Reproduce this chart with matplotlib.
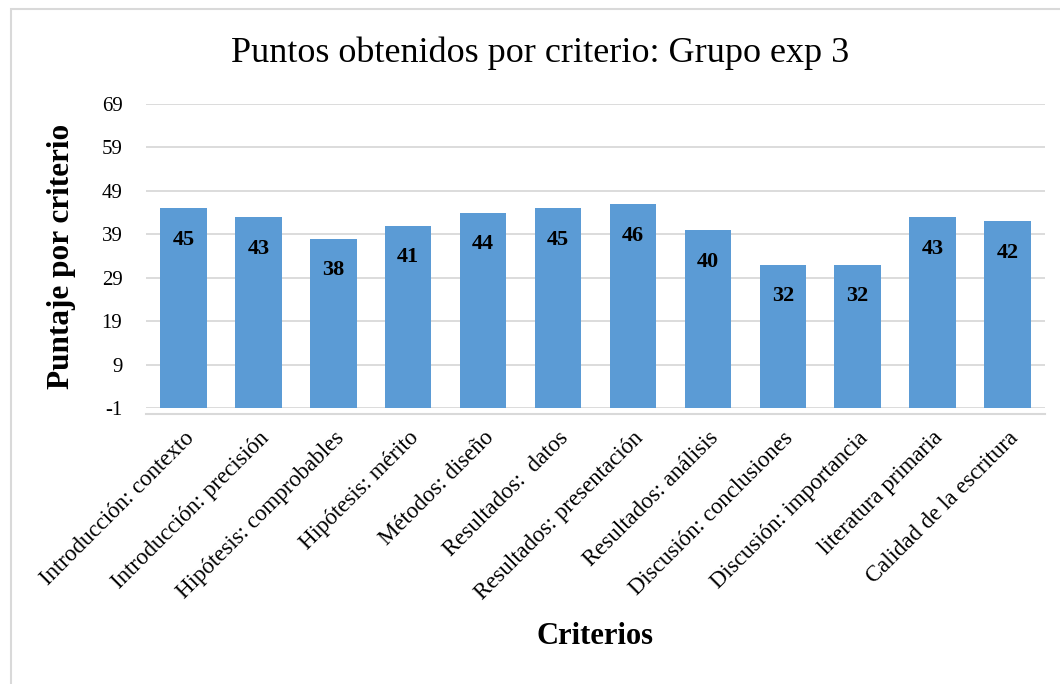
import matplotlib
matplotlib.use("Agg")
import matplotlib.pyplot as plt
from matplotlib.patches import Rectangle

categories = ["Introducción: contexto", "Introducción: precisión", "Hipótesis: comprobables",
              "Hipótesis: mérito", "Métodos: diseño", "Resultados:  datos",
              "Resultados: presentación", "Resultados: análisis", "Discusión: conclusiones",
              "Discusión: importancia", "literatura primaria", "Calidad de la escritura"]
values = [45, 43, 38, 41, 44, 45, 46, 40, 32, 32, 43, 42]
yticks = [-1, 9, 19, 29, 39, 49, 59, 69]

plt.rcParams['font.family'] = ['Liberation Serif', 'DejaVu Serif']

fig = plt.figure(figsize=(10.6, 6.84), dpi=100)
ax = fig.add_axes([146/1060, 1-408/684, 899/1060, 304/684])

for s in ['top', 'right', 'left']:
    ax.spines[s].set_visible(False)
ax.spines['bottom'].set_position(('outward', 4))
ax.spines['bottom'].set_color('#D9D9D9')
ax.spines['bottom'].set_linewidth(1.5)

base = yticks[0]
x = list(range(len(categories)))
ax.bar(x, [v - base for v in values], bottom=base, width=0.62, color='#5B9BD5', zorder=3)
for xi, v in zip(x, values):
    ax.text(xi, v - 5.0, str(v), ha='center', va='top', fontsize=16, fontweight='bold', zorder=4)

ax.set_ylim(yticks[0], yticks[-1])
ax.set_xlim(-0.5, len(categories) - 0.5)
ax.set_yticks(yticks)
ax.set_yticklabels([str(t) for t in yticks], fontsize=15)
ax.yaxis.grid(True, color='#D9D9D9', linewidth=1.3, zorder=0)
ax.tick_params(axis='y', length=0, pad=17)
ax.tick_params(axis='x', length=0, pad=10)
ax.set_xticks(x)
ax.set_xticklabels(categories, rotation=45, ha='right', rotation_mode='anchor', fontsize=16.5)

ax.set_ylabel("Puntaje por criterio", fontsize=22.5, fontweight='bold')
ax.yaxis.set_label_coords(-70/899, 0.5)
ax.set_xlabel("Criterios", fontsize=22, fontweight='bold')
ax.xaxis.set_label_coords(449/899, -(637-408)/304)
ax.xaxis.label.set_va('center')
fig.text(540/1060, 1-53/684, "Puntos obtenidos por criterio: Grupo exp 3", ha='center', va='center', fontsize=26)

fig.patches.append(Rectangle((11/1060, -0.05), 1.2, 1-9/684+0.05, transform=fig.transFigure,
                             fill=False, edgecolor='#D9D9D9', linewidth=1.5))

fig.savefig("out.png", dpi=100, facecolor='white')
